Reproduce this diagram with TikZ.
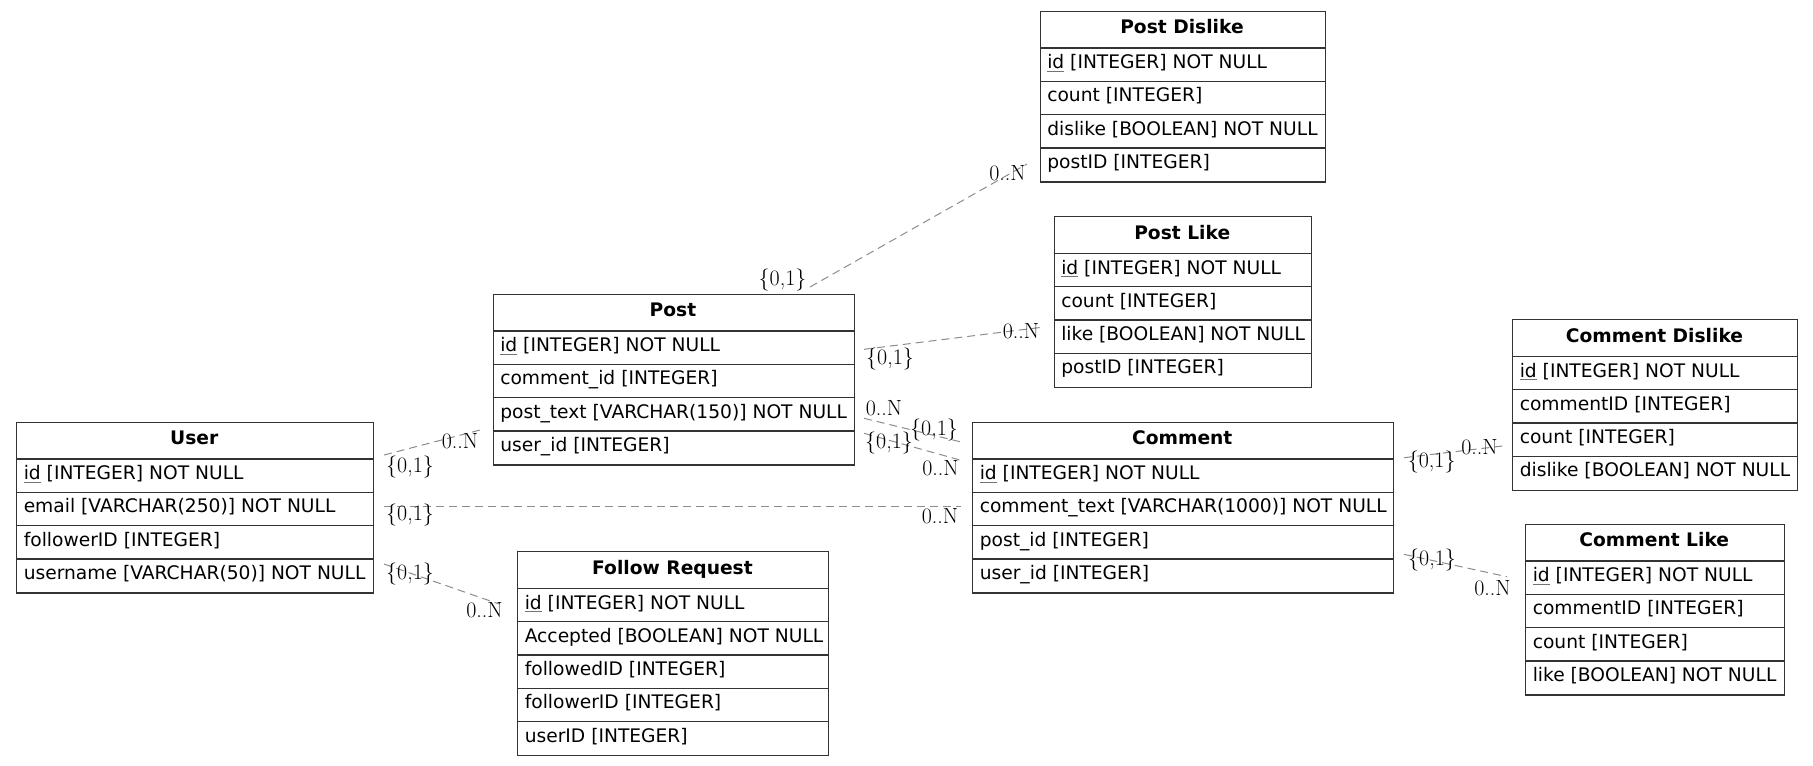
\documentclass[tikz,border=0pt]{standalone}
\usepackage{fontspec}
\setsansfont{DejaVu Sans}
\tikzset{
  hdr/.style={font=\sffamily\bfseries\fontsize{14}{16}\selectfont, inner sep=0pt},
  fld/.style={font=\sffamily\fontsize{14}{16}\selectfont, inner sep=0pt},
  boxframe/.style={draw=black!80, line width=1pt, inner sep=0pt},
  cellline/.style={draw=black!80, line width=1pt},
  conn/.style={draw=black!45, line width=0.75pt, dash pattern=on 6pt off 3.75pt},
  card/.style={font=\fontsize{16.5}{18}\selectfont, inner sep=0pt},
}
\newcommand\uid{\setbox0\hbox{id}\rlap{\color{black!55}\rule[-2.2pt]{\wd0}{0.6pt}}id}
\newcommand\erbox[6]{%
  \pgfmathsetmacro\erW{(#4-#2)*0.75}%
  \gdef\erN{0}%
  \foreach \rowtext [count=\rk] in {#6} {\xdef\erN{\rk}}%
  \pgfmathsetmacro\erH{(37.5+\erN*33.3)*0.75}%
  \node[boxframe, name=#1, anchor=north west, minimum width=\erW pt, minimum height=\erH pt] at (#2,#3) {};
  \node[hdr, anchor=base, name=#1-t] at ({(#2+#4)/2},{#3+23}) {#5};
  \foreach \rowtext [count=\rk] in {#6} {
    \pgfmathsetmacro\rt{#3+37.5+(\rk-1)*33.3}
    \draw[cellline] (#2,\rt) -- (#4,\rt);
    \node[fld, anchor=base west, name=#1-\rk] at ({#2+7.5},{\rt+20.5}) {\rowtext};
  }%
}
\begin{document}
\begin{tikzpicture}[x=0.75pt,y=-0.75pt]
\useasboundingbox (0,0) rectangle (1813,765);

% connectors (drawn first)
\coordinate (e1a) at (384,455);    \coordinate (e1b) at (480,430);
\coordinate (e2a) at (384,506);    \coordinate (e2b) at (961,506);
\coordinate (e3a) at (384,564);    \coordinate (e3b) at (499,604);
\coordinate (e4a) at (810,287);    \coordinate (e4b) at (1027,164);
\coordinate (e5a) at (864,349.3);  \coordinate (e5b) at (1044,327);
\coordinate (e6a) at (864,418.3);  \coordinate (e6b) at (960,441.7);
\coordinate (e7a) at (864,433.3);  \coordinate (e7b) at (960,460);
\coordinate (e8a) at (1404,457.7); \coordinate (e8b) at (1505,445.7);
\coordinate (e9a) at (1404,554.3); \coordinate (e9b) at (1507,576.7);
\draw[conn] (e1a) -- (e1b);
\draw[conn] (e2a) -- (e2b);
\draw[conn] (e3a) -- (e3b);
\draw[conn] (e4a) -- (e4b);
\draw[conn] (e5a) -- (e5b);
\draw[conn] (e6a) -- (e6b);
\draw[conn] (e7a) -- (e7b);
\draw[conn] (e8a) -- (e8b);
\draw[conn] (e9a) -- (e9b);

% tables
\erbox{user}{16}{421.5}{372.5}{User}{\uid{} [INTEGER] NOT NULL, email [VARCHAR(250)] NOT NULL, followerID [INTEGER], username [VARCHAR(50)] NOT NULL}
\erbox{post}{492.5}{293.5}{853.5}{Post}{\uid{} [INTEGER] NOT NULL, comment\_id [INTEGER], post\_text [VARCHAR(150)] NOT NULL, user\_id [INTEGER]}
\erbox{follow}{517}{551}{828}{Follow Request}{\uid{} [INTEGER] NOT NULL, Accepted [BOOLEAN] NOT NULL, followedID [INTEGER], followerID [INTEGER], userID [INTEGER]}
\erbox{pdislike}{1039.5}{10.5}{1324.5}{Post Dislike}{\uid{} [INTEGER] NOT NULL, count [INTEGER], dislike [BOOLEAN] NOT NULL, postID [INTEGER]}
\erbox{plike}{1053.5}{216}{1311}{Post Like}{\uid{} [INTEGER] NOT NULL, count [INTEGER], like [BOOLEAN] NOT NULL, postID [INTEGER]}
\erbox{comment}{972}{421.5}{1392.5}{Comment}{\uid{} [INTEGER] NOT NULL, comment\_text [VARCHAR(1000)] NOT NULL, post\_id [INTEGER], user\_id [INTEGER]}
\erbox{cdislike}{1512}{319}{1797}{Comment Dislike}{\uid{} [INTEGER] NOT NULL, commentID [INTEGER], count [INTEGER], dislike [BOOLEAN] NOT NULL}
\erbox{clike}{1525}{523.5}{1783.5}{Comment Like}{\uid{} [INTEGER] NOT NULL, commentID [INTEGER], count [INTEGER], like [BOOLEAN] NOT NULL}

% cardinality labels
\node[card] (l1a) at (410,466.7) {\{0,1\}};
\node[card] (l1b) at (460,440.7) {0..N};
\node[card] (l2a) at (410,515) {\{0,1\}};
\node[card] (l2b) at (940,516) {0..N};
\node[card] (l3a) at (410,574) {\{0,1\}};
\node[card] (l3b) at (484.5,610) {0..N};
\node[card] (l4a) at (782.5,280) {\{0,1\}};
\node[card] (l4b) at (1007.5,173.3) {0..N};
\node[card] (l5a) at (890,359.3) {\{0,1\}};
\node[card] (l5b) at (1021,330.7) {0..N};
\node[card] (l6a) at (884,408) {0..N};
\node[card] (l6b) at (934,430) {\{0,1\}};
\node[card] (l7a) at (889,443) {\{0,1\}};
\node[card] (l7b) at (940.5,468.3) {0..N};
\node[card] (l8a) at (1431.7,461.7) {\{0,1\}};
\node[card] (l8b) at (1479.5,446.7) {0..N};
\node[card] (l9a) at (1432,560) {\{0,1\}};
\node[card] (l9b) at (1492.5,588.3) {0..N};
\end{tikzpicture}
\end{document}
